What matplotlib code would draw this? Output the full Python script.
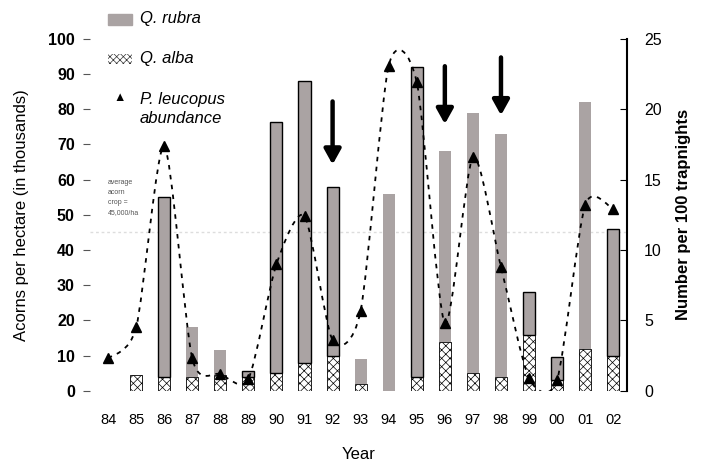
import numpy as np
import matplotlib
matplotlib.use("Agg")
import matplotlib.pyplot as plt
from matplotlib.path import Path
from matplotlib.patches import PathPatch

plt.rcParams["font.family"] = ["Liberation Sans", "DejaVu Sans"]
plt.rcParams["hatch.linewidth"] = 0.5

years = ["84", "85", "86", "87", "88", "89", "90", "91", "92", "93",
         "94", "95", "96", "97", "98", "99", "00", "01", "02"]
# acorns per hectare (thousands)
q_alba = [0, 4.5, 4, 4, 4.5, 4, 5, 8, 10, 2, 0, 4, 14, 5, 4, 16, 3, 12, 10]
q_rubra = [0, 0, 51, 14, 7, 1.5, 71.5, 80, 48, 7, 56, 88, 54, 74, 69, 12, 6.5, 70, 36]
# P. leucopus, number per 100 trapnights
mice = [2.3, 4.5, 17.4, 2.3, 1.2, 0.85, 9.0, 12.4, 3.6, 5.7, 23.1, 21.9,
        4.8, 16.6, 8.8, 0.9, 0.8, 13.2, 12.9]
outlined = ["86", "89", "90", "91", "92", "95", "99", "00", "02"]
arrow_years = ["92", "96", "98"]
arrow_top = [83, 93, 95.5]
arrow_bottom = [63.5, 75, 77.5]
avg_crop = 45

x = np.arange(len(years))
gray = "#aaa3a3"

fig = plt.figure(figsize=(7.04, 4.62), dpi=100)
ax = fig.add_axes([0.128, 0.154, 0.763, 0.762])
ax2 = ax.twinx()

edges = ["black" if y in outlined else "none" for y in years]
ax.bar(x, q_alba, width=0.43, color="white", edgecolor="black", hatch="xxxx", linewidth=0.6)
ax.bar(x, q_rubra, width=0.43, bottom=q_alba, color=gray, edgecolor=edges, linewidth=1.0)

ax.axhline(avg_crop, color="#dddddd", lw=1.0, ls=(0, (2, 2)), zorder=0)
ax.text(0.0, 55, "average\nacorn\ncrop =\n45,000/ha", fontsize=5, color="#555555",
        va="center", ha="left", linespacing=1.6)

# smoothed line through the trap data (bezier)
pts = np.column_stack([x, mice]).astype(float)
verts = [tuple(pts[0])]
codes = [Path.MOVETO]
n = len(pts)
for i in range(n - 1):
    p0 = pts[i - 1] if i > 0 else pts[i]
    p1, p2 = pts[i], pts[i + 1]
    p3 = pts[i + 2] if i + 2 < n else pts[i + 1]
    c1 = p1 + (p2 - p0) / 8
    c2 = p2 - (p3 - p1) / 8
    verts += [tuple(c1), tuple(c2), tuple(p2)]
    codes += [Path.CURVE4] * 3
ax2.add_patch(PathPatch(Path(verts, codes), fill=False, ls=(0, (2.5, 3)), lw=1.3, color="black"))
ax2.plot(x, mice, ls="none", marker="^", ms=7, color="black")

for y, top, bot in zip(arrow_years, arrow_top, arrow_bottom):
    i = years.index(y)
    ax.annotate("", xy=(i, bot), xytext=(i, top), annotation_clip=False,
                arrowprops=dict(arrowstyle="-|>,head_width=0.5,head_length=0.9",
                                lw=3.2, color="black"))

ax.set_xlim(-0.64, 18.5)
ax.set_ylim(0, 100)
ax2.set_ylim(0, 25)
ax.set_xticks(x)
ax.set_xticklabels(years, fontsize=10.5, fontstretch="condensed")
ax.tick_params(axis="x", length=0, pad=16)
ax.set_yticks(np.arange(0, 101, 10))
ax.tick_params(axis="y", labelsize=11.5, length=5, color="#555555", pad=6)
for lab in ax.get_yticklabels():
    lab.set_fontweight("bold")
ax2.set_yticks(np.arange(0, 26, 5))
ax2.tick_params(axis="y", direction="in", length=5, labelsize=11.5, pad=12)

for s in ["top", "left", "bottom"]:
    ax.spines[s].set_visible(False)
    ax2.spines[s].set_visible(False)
ax.spines["right"].set_visible(False)
ax2.spines["right"].set_linewidth(1.5)

ax.set_xlabel("Year", fontsize=12, labelpad=14)
ax.set_ylabel("Acorns per hectare (in thousands)", fontsize=12, labelpad=14)
ax2.set_ylabel("Number per 100 trapnights", fontsize=12, fontweight="bold", labelpad=10)

# legend drawn at the top left
fig.patches.append(plt.Rectangle((108 / 704, 1 - 25 / 462), 24 / 704, 11 / 462,
                                 transform=fig.transFigure, color=gray))
fig.text(140 / 704, 1 - 19 / 462, "Q. rubra", fontsize=12, style="italic", va="center")
fig.patches.append(plt.Rectangle((108 / 704, 1 - 64 / 462), 24 / 704, 10 / 462,
                                 transform=fig.transFigure, facecolor="white",
                                 edgecolor="#333333", linewidth=0, hatch="xxxxx"))
fig.text(140 / 704, 1 - 59 / 462, "Q. alba", fontsize=12, style="italic", va="center")
fig.text(120 / 704, 1 - 98 / 462, "\u25b2", fontsize=9, ha="center", va="center")
fig.text(140 / 704, 1 - 109 / 462, "P. leucopus\nabundance", fontsize=12, style="italic",
         va="center", linespacing=1.35)

fig.savefig("out.png", dpi=100)
